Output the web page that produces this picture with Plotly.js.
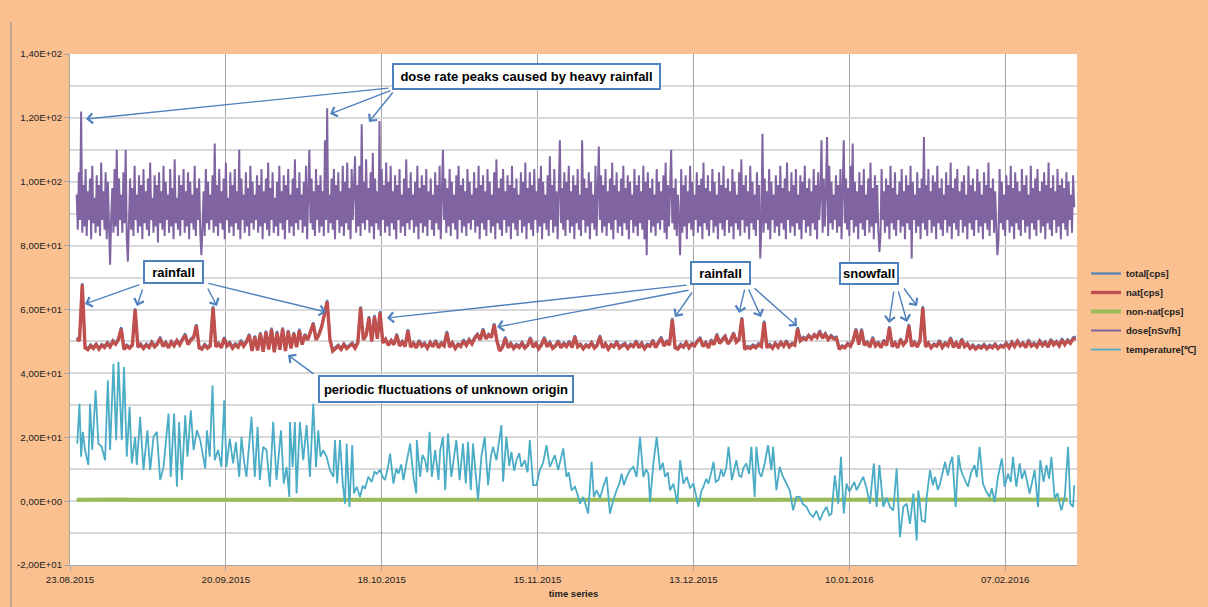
<!DOCTYPE html>
<html>
<head>
<meta charset="utf-8">
<script src="https://cdn.plot.ly/plotly-3.0.1.min.js"></script>
<style>html,body{margin:0;padding:0;background:#FAC090;}#chart{width:1208px;height:607px;}</style>
</head>
<body>
<div id="chart"></div>
<script>
// ---------------- DATA ----------------
const seriesNames = ['total[cps]', 'nat[cps]', 'non-nat[cps]', 'dose[nSv/h]', 'temperature[\u2103]'];
const xTickLabels = ['23.08.2015', '20.09.2015', '18.10.2015', '15.11.2015', '13.12.2015', '10.01.2016', '07.02.2016'];
const yTickValues = [-20, 0, 20, 40, 60, 80, 100, 120, 140];
const yTickLabels = ['-2,00E+01', '0,00E+00', '2,00E+01', '4,00E+01', '6,00E+01', '8,00E+01', '1,00E+02', '1,20E+02', '1,40E+02'];
const startDate = '2015-08-23';
const endDay = 180.9;

// dose [nSv/h], sampled every 0.2 day from day 1.2
const doseStartDay = 1.2, doseStepDays = 0.2;
const dose = [
96,85,103,88,122,84,99,86,104,83,97,88,101,82,105,87,95,84,102,86,
99,83,106,88,97,85,103,82,100,87,74,89,98,84,104,86,110,83,101,88,
96,84,103,87,110,82,75,88,101,85,98,83,105,88,96,84,102,86,99,82,
104,87,97,85,101,83,106,88,95,84,102,86,99,81,103,87,97,85,105,83,
100,88,96,84,104,86,98,82,107,87,95,85,102,83,99,88,104,84,97,86,
103,82,100,87,96,85,105,83,98,88,101,84,77,86,97,83,104,87,100,85,
96,88,102,84,112,86,99,83,104,87,97,85,101,82,106,88,95,84,103,86,
99,83,104,87,97,85,110,82,101,88,96,84,103,86,98,83,105,87,100,85,
96,88,102,84,99,86,104,82,97,87,101,85,106,83,98,88,103,84,95,86,
100,83,105,87,97,85,102,82,99,88,104,84,96,86,101,83,107,87,98,85,
103,88,96,84,100,86,105,82,98,110,87,101,85,97,83,104,88,99,84,102,
86,97,83,113,88,123,84,96,87,101,85,104,82,99,88,103,84,97,86,105,
83,100,87,106,85,98,82,104,88,101,108,84,99,86,105,83,118,87,100,85,
107,88,98,84,103,86,109,82,101,87,97,85,119,83,104,88,99,84,106,86,
100,83,105,87,97,85,102,82,99,88,104,84,96,86,101,83,107,87,98,85,
103,88,96,84,100,86,105,82,98,87,102,84,99,86,104,83,97,88,101,85,
96,83,103,87,99,85,105,82,97,110,88,101,84,98,86,104,83,100,87,96,
85,102,82,105,88,99,84,101,86,97,83,104,87,100,85,96,88,103,84,98,
86,105,82,99,87,102,85,97,83,104,88,100,84,96,86,103,82,107,87,98,
85,101,83,104,88,97,84,102,86,99,82,105,87,98,85,101,83,96,88,103,
84,100,86,106,82,98,87,103,85,99,83,104,88,97,84,101,86,105,82,100,
87,96,85,102,83,108,88,99,84,104,86,97,82,101,113,87,98,85,103,83,
100,88,105,84,97,86,102,82,99,87,104,85,96,83,113,88,101,84,98,86,
103,82,100,87,96,85,105,83,98,111,88,102,84,99,86,104,83,97,87,101,
85,106,82,99,88,103,84,97,86,101,83,105,87,98,85,102,82,100,88,96,
84,104,86,99,83,102,87,97,85,105,82,100,77,103,88,98,84,101,86,96,
83,104,87,100,85,97,88,102,84,106,82,99,86,103,110,87,98,85,101,83,
96,88,77,104,84,99,86,102,82,97,87,105,85,100,83,96,88,103,84,99,
86,101,82,106,87,98,85,102,83,97,88,104,84,100,86,96,82,103,87,99,
85,105,83,98,88,101,84,97,86,104,82,100,87,96,85,103,83,107,88,99,
84,102,86,97,82,105,87,100,85,96,83,103,88,99,76,86,115,84,101,87,
97,85,104,82,100,88,96,84,102,86,99,83,105,87,98,85,101,82,106,88,
97,84,103,86,99,83,104,87,96,85,102,82,100,88,105,84,98,86,101,83,
97,87,104,85,99,82,103,88,96,113,84,101,86,98,114,83,105,87,100,85,
96,88,102,84,99,86,104,82,97,113,87,101,85,98,83,105,88,112,84,100,
86,97,82,103,87,99,85,104,83,96,88,101,84,106,86,98,82,102,87,99,
85,78,83,104,88,97,84,101,86,99,82,105,87,98,85,103,83,96,88,100,
84,104,86,97,82,102,87,99,85,105,76,100,88,96,84,103,86,98,82,101,
87,114,85,99,83,104,88,97,84,102,86,100,82,105,87,98,85,101,83,96,
88,103,84,99,86,106,82,98,87,101,85,104,83,97,88,100,84,102,86,96,
82,105,87,99,85,101,83,97,88,104,84,100,86,96,82,103,87,99,85,106,
83,98,88,101,84,97,86,77,82,104,87,100,85,96,83,102,88,99,84,105,
86,98,82,103,87,100,85,97,83,104,88,99,84,102,86,96,82,105,87,98,
85,101,83,104,88,97,84,100,86,103,82,99,87,106,85,98,83,102,88,97,
84,104,86,99,82,101,87,98,85,103,83,100,88,96,84,102,92
];

// nat [cps], sampled every 0.5 day from day 1.2
const natStartDay = 1.2, natStepDays = 0.5;
const nat = [
50.8,50.2,67.8,48.0,47.4,48.6,47.8,49.0,47.6,48.8,48.1,49.4,48.3,50.0,49.1,50.6,54.0,47.5,48.6,47.9,
48.8,60.0,48.2,49.0,47.8,48.9,48.1,49.6,48.3,49.2,51.0,48.4,49.5,48.0,49.8,48.6,50.2,48.9,50.6,52.0,
49.0,50.4,51.2,55.0,48.0,47.6,48.8,47.9,48.6,60.6,48.3,49.2,48.0,51.0,48.6,49.4,47.9,49.0,48.2,50.0,
48.5,49.8,52.0,47.0,51.5,47.2,52.5,46.8,53.0,47.5,53.8,46.6,52.8,47.4,54.0,47.0,53.2,47.8,52.5,48.2,
53.5,49.0,52.0,50.5,53.0,55.6,50.5,52.0,54.5,58.0,62.5,50.5,47.0,47.8,48.6,47.5,49.0,47.8,48.4,49.2,
47.9,49.5,60.6,50.5,52.0,57.5,50.0,57.8,50.8,59.0,49.5,50.6,48.8,50.2,49.0,52.0,48.6,49.8,48.4,53.4,
48.2,49.4,48.0,50.0,48.5,49.2,47.9,49.6,48.3,50.1,48.0,49.3,48.6,52.8,48.2,49.5,47.8,49.0,48.4,50.2,
48.8,50.4,49.2,51.0,52.0,50.5,53.7,50.8,52.0,51.2,55.3,50.0,47.0,48.2,51.0,48.0,49.2,47.8,48.8,48.1,
49.4,47.9,48.7,51.0,48.2,49.3,47.7,48.9,51.0,48.3,49.6,47.8,48.5,50.0,48.0,49.2,48.4,49.8,48.1,51.5,
48.3,49.0,47.7,48.8,48.2,49.5,47.9,48.7,51.5,48.0,49.2,47.6,48.9,48.3,49.8,47.9,48.6,49.1,47.8,48.9,
48.4,50.0,48.0,49.3,47.7,48.8,48.5,50.2,48.1,49.4,51.0,48.6,49.8,48.9,56.9,48.0,47.6,48.8,48.2,49.6,
48.0,49.2,48.6,50.0,51.0,48.4,49.5,48.0,50.2,49.0,52.0,49.4,50.3,51.5,49.2,50.4,52.5,49.8,50.6,57.2,
47.5,48.2,47.8,48.6,48.0,49.0,48.4,56.0,48.0,48.8,47.9,49.3,48.2,49.6,48.5,50.0,48.3,49.2,48.8,54.0,
50.2,51.0,50.6,51.8,50.8,52.0,51.2,53.0,51.0,52.2,50.6,51.6,50.8,51.0,47.5,48.4,48.0,49.2,48.5,50.4,
53.7,49.0,53.6,48.8,49.6,48.2,51.0,48.6,49.4,48.1,50.2,48.7,54.4,48.3,49.5,48.0,50.6,48.9,50.0,55.0,
48.4,49.6,48.2,50.2,60.6,48.3,49.4,48.0,49.0,48.5,50.0,48.1,49.3,48.6,51.0,48.2,49.5,47.9,50.6,48.4,
49.2,47.8,48.6,47.6,48.4,47.9,48.8,47.7,48.5,48.0,49.0,47.8,48.6,48.2,49.3,48.0,49.6,48.4,50.0,48.6,
49.4,48.1,50.2,48.5,49.2,48.3,50.0,48.7,49.6,48.2,50.4,48.9,49.8,48.6,50.5,49.0,50.2,49.4,50.8,51.0
];

// non-nat [cps], sampled every 2 days from day 1.2
const nonNatStartDay = 1.2, nonNatStepDays = 2;
const nonNat = [
0.4,0.5,0.4,0.5,0.5,0.4,0.4,0.5,0.5,0.4,0.5,0.4,0.5,0.4,0.5,0.5,0.4,0.4,0.5,0.4,
0.5,0.4,0.5,0.5,0.4,0.5,0.4,0.5,0.4,0.5,0.4,0.5,0.4,0.5,0.4,0.5,0.5,0.4,0.4,0.5,
0.5,0.4,0.5,0.4,0.5,0.4,0.4,0.5,0.4,0.5,0.4,0.5,0.4,0.5,0.5,0.4,0.4,0.5,0.5,0.4,
0.4,0.5,0.5,0.4,0.4,0.5,0.4,0.5,0.5,0.4,0.4,0.5,0.5,0.4,0.4,0.5,0.5,0.4,0.5,0.4,
0.4,0.5,0.5,0.4,0.5,0.4,0.5,0.5,0.4,0.5
];

// temperature [°C]: day offset from start date, value
const tempDay = [
1.3,1.7,2.0,2.3,2.7,3.3,3.6,4.0,4.6,5.1,5.7,6.3,6.8,7.2,7.8,8.3,8.7,9.3,9.7,10.2,
10.7,11.1,11.7,12.0,12.6,13.2,13.9,14.4,15.0,15.6,16.2,16.8,17.7,18.1,18.7,19.2,19.6,20.1,20.7,21.1,
21.7,22.2,22.8,23.4,24.3,24.6,25.1,25.6,26.0,26.6,27.2,27.7,28.1,28.7,29.3,29.8,30.4,30.8,31.3,31.7,
32.6,33.2,33.7,34.1,34.7,35.3,35.9,36.5,37.1,37.9,38.4,38.9,39.4,39.5,40.0,40.4,40.7,41.3,41.9,42.5,
43.1,43.7,44.2,44.6,45.0,45.5,46.1,46.7,47.3,47.6,48.0,48.5,49.0,49.4,49.7,50.2,50.7,51.0,51.5,52.1,
52.6,53.0,53.6,54.2,54.7,55.1,55.7,56.2,56.6,57.1,57.5,58.1,58.6,59.0,59.5,59.9,60.5,61.1,61.7,62.2,
62.3,62.9,63.3,63.8,64.2,64.6,65.0,65.6,66.2,66.5,67.0,67.4,67.9,68.5,69.4,70.0,70.6,71.1,71.5,72.0,
72.4,72.9,73.3,73.9,74.5,75.1,75.6,76.0,76.6,77.5,77.8,78.4,78.9,79.3,79.8,80.2,80.7,81.1,81.7,82.2,
82.6,83.2,83.8,84.4,85.0,85.6,86.2,87.1,87.7,88.6,89.2,89.6,90.1,90.7,91.2,91.6,92.2,92.6,93.1,93.7,
94.1,94.6,95.2,95.8,96.4,97.0,97.6,98.2,98.7,99.1,99.5,100.0,100.6,101.2,101.8,102.4,103.0,103.5,103.9,104.2,
104.8,105.4,106.0,106.5,106.9,107.4,107.8,108.4,109.1,109.6,110.2,110.8,111.4,112.0,112.9,113.4,113.8,114.3,114.7,115.2,
115.6,116.0,116.5,117.0,117.4,117.9,118.3,118.9,119.3,119.7,120.2,120.6,121.0,121.5,122.0,122.4,123.0,123.3,123.8,124.2,
124.8,125.4,126.0,126.3,126.9,127.5,128.0,128.4,129.3,129.9,130.5,131.1,131.7,132.3,132.9,133.5,134.1,134.7,135.3,135.9,
136.4,136.8,137.4,138.0,138.5,139.0,139.5,140.0,140.4,140.9,141.3,141.9,142.5,143.1,143.7,144.4,144.9,145.4,146.1,146.7,
147.3,147.9,148.5,149.1,149.7,150.3,150.9,151.5,152.1,152.4,153.0,153.6,153.9,154.5,155.0,155.4,155.9,156.3,156.8,157.2,
157.7,158.1,158.5,159.1,159.6,160.0,160.4,160.9,161.3,161.9,162.5,162.9,163.4,164.0,164.6,165.2,165.6,166.1,166.7,167.4,
167.9,168.5,169.0,169.4,170.0,170.6,171.0,171.5,172.0,172.4,172.9,173.3,173.9,174.3,174.9,175.4,175.9,176.3,176.9,177.4,
177.8,178.1,178.7,179.3,179.7,180.2,180.4
];
const tempVal = [
18,30.5,13.9,21.7,16.0,11.3,30.5,16.0,34.7,18.0,17.0,12.8,37.8,16.0,43.0,19.1,43.6,19.1,42.0,13.9,
29.5,11.8,20.1,11.3,26.4,9.7,22.2,9.7,20.1,21.7,6.6,10.7,27.4,7.6,27.4,4.5,24.8,6.6,26.9,13.9,
28.4,16.0,22.2,19.1,10.2,22.2,13.9,36.3,12.8,16.0,10.7,31.6,10.7,19.6,11.8,18.5,7.6,20.1,12.0,7.6,
26.4,7.6,23.3,6.6,17.0,16.0,4.5,24.8,6.6,22.2,5.5,10.7,1.3,24.8,10.7,24.8,2.4,24.8,12.8,23.8,
7.6,30.5,10.7,22.2,13.9,16.0,13.9,9.7,7.6,19.1,5.5,19.1,5.5,-0.8,18.0,-1.8,17.5,2.4,4.5,1.3,
4.8,3.9,7.6,6.0,9.2,8.6,9.7,7.5,6.6,10.5,14.9,5.5,10.2,8.6,11.5,6.6,12.5,18.0,7.6,2.4,
19.1,7.6,14.5,12.8,9.0,21.7,7.6,16.0,6.6,16.0,20.1,3.4,21.2,7.6,19.1,6.6,18.0,5.5,18.6,3.4,
18.0,8.5,0.3,13.9,20.1,5.0,14.0,17.0,12.8,23.8,6.1,20.1,11.0,15.4,9.5,12.8,15.0,10.7,12.8,9.0,
19.1,5.0,5.0,9.7,12.0,17.5,10.7,14.4,9.7,16.5,7.6,9.0,3.4,4.5,2.0,-0.8,1.3,-1.0,-3.9,12.3,
1.3,3.4,1.0,4.5,7.6,-3.9,0.3,3.4,5.5,8.6,5.0,7.6,9.7,10.7,7.6,20.1,7.6,10.0,8.6,-0.3,
11.8,20.1,9.7,12.0,7.6,9.0,3.4,5.5,-0.8,12.8,5.5,7.6,4.0,5.5,-1.8,3.0,4.5,7.0,5.5,9.0,
12.3,6.0,6.6,10.0,7.6,10.5,17.0,6.6,10.0,12.8,8.0,7.6,10.5,11.8,8.5,17.0,1.3,17.0,9.0,7.6,
11.8,17.5,9.7,17.0,3.4,10.7,8.0,6.6,3.4,-2.9,1.3,1.3,-1.0,-1.8,-3.9,-5.0,-3.0,-6.0,-3.5,-1.8,
-4.5,-3.9,8.1,-0.8,13.9,-3.9,5.5,3.0,4.5,6.0,3.4,5.5,7.6,4.0,-0.8,11.8,-1.8,11.3,-1.8,1.0,
-1.8,-2.9,10.2,-11.3,-1.8,-0.8,-7.1,2.4,-12.3,3.4,-6.0,-6.5,1.3,9.7,5.0,7.6,3.5,5.5,9.0,12.3,
8.0,11.8,13.9,-1.8,14.4,10.0,8.1,6.0,4.5,9.0,11.3,7.5,17.0,5.5,3.0,1.3,4.0,-0.3,7.6,13.4,
4.5,8.6,6.0,13.9,4.5,11.8,7.0,9.7,6.0,2.4,6.5,9.7,-1.8,12.8,6.0,11.3,7.0,13.9,0.8,2.5,
-0.8,-2.9,1.3,17.0,-0.8,-1.8,5.0
];

// ---------------- HELPERS ----------------
const DAY_MS = 86400000;
const startMs = Date.parse(startDate + 'T00:00:00Z');
function dayToDate(d) { return new Date(startMs + d * DAY_MS).toISOString().slice(0, 19).replace('T', ' '); }
function sampledDates(n, d0, step) { const out = []; for (let i = 0; i < n; i++) out.push(dayToDate(d0 + i * step)); return out; }
function labelToDate(s) { const p = s.split('.'); return p[2] + '-' + p[1] + '-' + p[0]; }

const doseX = sampledDates(dose.length, doseStartDay, doseStepDays);
const natX = sampledDates(nat.length, natStartDay, natStepDays);
const nonNatX = sampledDates(nonNat.length, nonNatStartDay, (endDay - 1.6 - nonNatStartDay) / (nonNat.length - 1));
const tempX = tempDay.map(dayToDate);
// total = nat + non-nat (non-nat taken at nearest sample time)
const total = nat.map((v, i) => {
  const d = natStartDay + i * natStepDays;
  const j = Math.min(nonNat.length - 1, Math.max(0, Math.round((d - nonNatStartDay) / nonNatStepDays)));
  return +(v + nonNat[j]).toFixed(2);
});

// ---------------- LAYOUT GEOMETRY ----------------
const W = 1208, H = 607;
const PL = 70, PR = 1077, PT = 54, PB = 565;
const fx = px => (px - PL) / (PR - PL);
const fy = py => (PB - py) / (PB - PT);

const C = { total: '#4F81BD', nat: '#C0504D', nonNat: '#9BBB59', dose: '#8064A2', temp: '#4BACC6' };
const FONT = 'Arial, "Liberation Sans", sans-serif';

const traces = [
  { x: natX, y: total, name: seriesNames[0], type: 'scatter', mode: 'lines', line: { color: C.total, width: 2.2 } },
  { x: natX, y: nat, name: seriesNames[1], type: 'scatter', mode: 'lines', line: { color: C.nat, width: 3.4 } },
  { x: nonNatX, y: nonNat, name: seriesNames[2], type: 'scatter', mode: 'lines', line: { color: C.nonNat, width: 4 } },
  { x: doseX, y: dose, name: seriesNames[3], type: 'scatter', mode: 'lines', line: { color: C.dose, width: 2 } },
  { x: tempX, y: tempVal, name: seriesNames[4], type: 'scatter', mode: 'lines', line: { color: C.temp, width: 1.8 } }
];

// text boxes: [text, left, top, right, bottom] in pixels
const boxes = [
  ['dose rate peaks caused by heavy rainfall', 392, 63, 661, 90],
  ['rainfall', 143, 260, 204, 284],
  ['rainfall', 690, 261, 751, 285],
  ['snowfall', 839, 262, 899, 285],
  ['periodic fluctuations of unknown origin', 318, 375, 574, 403]
];
// arrows: [tailX, tailY, headX, headY] in pixels
const arrows = [
  [390, 88, 86, 119], [392, 90, 330, 114], [394, 91, 369, 122],
  [141, 284, 85, 304], [143, 288, 137, 306], [207, 287, 217, 306], [207, 283, 326, 312],
  [688, 285, 387, 318], [690, 290, 497, 327], [693, 291, 675, 317],
  [745, 288, 739, 313], [748, 288, 761, 317], [753, 287, 797, 326],
  [894, 290, 889, 323], [898, 290, 907, 322], [903, 287, 917, 306],
  [315, 375, 288, 355]
];

const annotations = [];
arrows.forEach(a => annotations.push({
  xref: 'paper', yref: 'paper', x: fx(a[2]), y: fy(a[3]), ax: a[0] - a[2], ay: a[1] - a[3],
  text: '', showarrow: true, arrowhead: 4, arrowsize: 1.4, arrowwidth: 1.4, arrowcolor: C.total,
  standoff: 0, startstandoff: 0
}));
boxes.forEach(b => annotations.push({
  xref: 'paper', yref: 'paper', x: fx((b[1] + b[3]) / 2), y: fy((b[2] + b[4]) / 2),
  xanchor: 'center', yanchor: 'middle', showarrow: false,
  text: '<b>' + b[0] + '</b>', font: { family: FONT, size: 13, color: '#000' },
  bgcolor: '#FFFFFF', bordercolor: C.total, borderwidth: 2, borderpad: 2,
  width: (b[3] - b[1]) - 8, height: (b[4] - b[2]) - 8
}));

const layout = {
  width: W, height: H,
  paper_bgcolor: '#FAC090', plot_bgcolor: '#FFFFFF',
  margin: { l: PL, r: W - PR, t: PT, b: H - PB, pad: 0, autoexpand: false },
  font: { family: FONT, color: '#222' },
  showlegend: true,
  legend: {
    x: fx(1086), y: fy(259), xanchor: 'left', yanchor: 'top',
    bgcolor: 'rgba(0,0,0,0)', borderwidth: 0, itemwidth: 30,
    font: { family: FONT, size: 9.5, color: '#222', weight: 'bold' }
  },
  xaxis: {
    type: 'date',
    range: [dayToDate(0), dayToDate(endDay)],
    tickmode: 'array',
    tickvals: xTickLabels.map(labelToDate),
    ticktext: xTickLabels,
    tickfont: { family: FONT, size: 9.7, color: '#222' },
    showgrid: true, gridcolor: '#A6A6A6', gridwidth: 1,
    showline: true, linecolor: '#A6A6A6', linewidth: 1,
    ticks: 'outside', ticklen: 5, tickcolor: '#A6A6A6',
    zeroline: false, automargin: false,
    title: { text: '<b>time series</b>', font: { family: FONT, size: 9.5, color: '#222' }, standoff: 6 }
  },
  yaxis: {
    range: [-20, 140],
    tickmode: 'array', tickvals: yTickValues, ticktext: yTickLabels,
    tickfont: { family: FONT, size: 9.7, color: '#222' },
    showgrid: true, gridcolor: '#D9D9D9', gridwidth: 2,
    minor: { tickmode: 'linear', tick0: 0, dtick: 10, showgrid: true, gridcolor: '#D9D9D9', gridwidth: 2, ticks: '' },
    showline: true, linecolor: '#A6A6A6', linewidth: 1,
    ticks: 'outside', ticklen: 5, tickcolor: '#A6A6A6',
    zeroline: false, automargin: false
  },
  shapes: [
    { type: 'line', xref: 'paper', yref: 'paper', x0: fx(11), x1: fx(11), y0: fy(22), y1: fy(607),
      line: { color: '#8C8C8C', width: 1 } }
  ],
  annotations: annotations
};

Plotly.newPlot('chart', traces, layout, { displayModeBar: false, staticPlot: true });
</script>
</body>
</html>
